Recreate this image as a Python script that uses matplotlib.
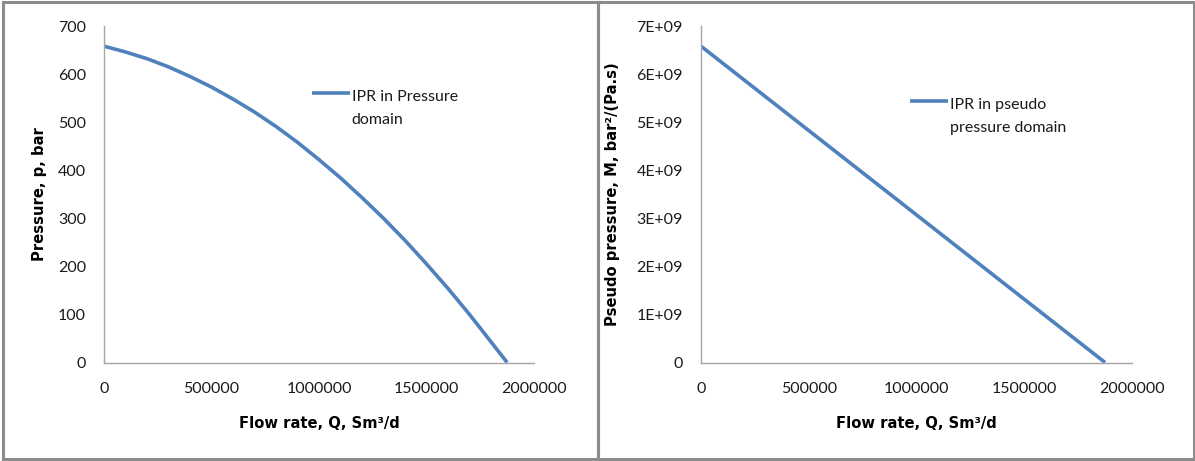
import matplotlib
matplotlib.use("Agg")
import matplotlib.pyplot as plt
from matplotlib.patches import Rectangle
from matplotlib.ticker import FuncFormatter, MultipleLocator

plt.rcParams["font.family"] = ["Lato", "DejaVu Sans"]

# ── Data ─────────────────────────────────────────────────────────────────────
flow_q = [0, 100000, 200000, 300000, 400000, 500000, 600000, 700000, 800000,
          900000, 1000000, 1100000, 1200000, 1300000, 1400000, 1500000,
          1600000, 1700000, 1800000, 1875000]
pressure_bar = [658, 646, 632, 615, 595, 573, 548, 521, 491, 458, 422, 384,
                343, 300, 254, 205, 154, 100, 43, 0]

pseudo_q = [0, 1875000]
pseudo_m = [6.58e9, 0]

x_ticks = [0, 500000, 1000000, 1500000, 2000000]
label_left = "IPR in Pressure\ndomain"
label_right = "IPR in pseudo\npressure domain"

LINE_C = "#4F81BD"
AXIS_C = "#A6A6A6"
FRAME_C = "#8C8C8C"
TEXT_C = "#1a1a1a"
TITLE_FONT = dict(family=["DejaVu Sans"], fontsize=10.6, fontweight="bold")
W, H = 1195, 461


def style_axes(ax, ytop, ystep):
    ax.set_xlim(0, 2000000)
    ax.set_ylim(0, ytop)
    ax.set_xticks(x_ticks)
    ax.yaxis.set_major_locator(MultipleLocator(ystep))
    for s in ("top", "right"):
        ax.spines[s].set_visible(False)
    for s in ("left", "bottom"):
        ax.spines[s].set_color(AXIS_C)
        ax.spines[s].set_linewidth(1.0)
    ax.tick_params(length=0, labelsize=11.5, colors=TEXT_C)
    ax.tick_params(axis="x", pad=14)
    ax.tick_params(axis="y", pad=13)
    ax.xaxis.set_major_formatter(FuncFormatter(lambda v, p: f"{v:.0f}"))
    ax.set_xlabel("Flow rate, Q, Sm³/d", **TITLE_FONT)
    ax.xaxis.set_label_coords(0.5, -(423 - 362.5) / 336.5)
    ax.xaxis.label.set_va("center")


def add_legend(ax, label, x, y):
    leg = ax.legend([ax.lines[0]], [label], loc="upper left",
                    bbox_to_anchor=(x, y), frameon=False, fontsize=11.5,
                    handlelength=2.35, handletextpad=0.12, borderaxespad=0)
    for t in leg.get_texts():
        t.set_linespacing(1.85)
        t.set_color(TEXT_C)
    for ln in leg.get_lines():
        ln.set_ydata([v + 11 for v in ln.get_ydata()])
    return leg


fig = plt.figure(figsize=(W / 100, H / 100), dpi=100)

# left panel
ax1 = fig.add_axes([104 / W, (H - 362.5) / H, 430 / W, 336.5 / H])
ax1.plot(flow_q, pressure_bar, color=LINE_C, lw=2.6, solid_capstyle="butt")
style_axes(ax1, 700, 100)
ax1.set_ylabel("Pressure, p, bar", **TITLE_FONT)
ax1.yaxis.set_label_coords((40 - 104) / 430, 0.5)
ax1.yaxis.label.set_va("center")
add_legend(ax1, label_left, (306 - 104) / 430, (362.5 - 83.5) / 336.5)

# right panel
ax2 = fig.add_axes([701 / W, (H - 362.5) / H, 431 / W, 336.5 / H])
ax2.plot(pseudo_q, pseudo_m, color=LINE_C, lw=2.6, solid_capstyle="butt")
style_axes(ax2, 7e9, 1e9)
ax2.yaxis.set_major_formatter(
    FuncFormatter(lambda v, p: "0" if v == 0 else f"{v / 1e9:.0f}E+09"))
ax2.set_ylabel("Pseudo pressure, M, bar²/(Pa.s)", **TITLE_FONT)
ax2.yaxis.set_label_coords((613 - 701) / 431, 0.5)
ax2.yaxis.label.set_va("center")
add_legend(ax2, label_right, (904 - 701) / 431, (362.5 - 91.5) / 336.5)

# panel frames
for x0, x1 in ((2.5, 598), (598, 1193.5)):
    fig.add_artist(Rectangle((x0 / W, 2.5 / H), (x1 - x0) / W, (H - 5) / H,
                             transform=fig.transFigure, fill=False,
                             edgecolor=FRAME_C, lw=2.2))

fig.savefig("out.png", dpi=100)
